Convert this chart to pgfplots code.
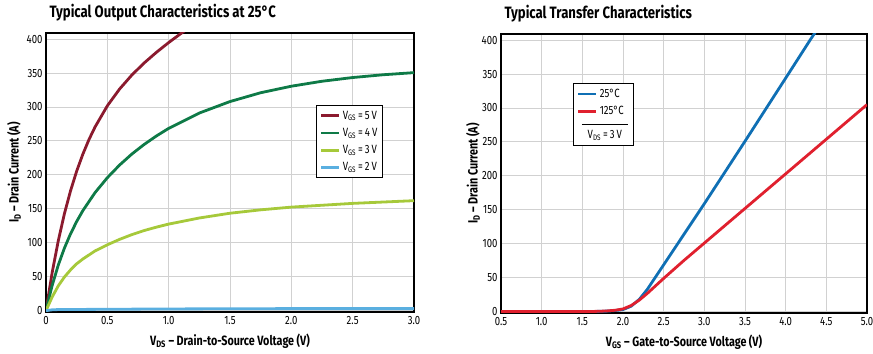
\documentclass[border=0pt]{standalone}
\usepackage{fontspec}
\setmainfont{Fira Sans}[FakeStretch=0.8]
\usepackage{pgfplots}
\pgfplotsset{compat=1.18}
\definecolor{cR5}{HTML}{8B1A2E}
\definecolor{cG4}{HTML}{0E7A47}
\definecolor{cY3}{HTML}{A6C93A}
\definecolor{cB2}{HTML}{5AAFE0}
\definecolor{cBlue}{HTML}{0F6FB4}
\definecolor{cRed}{HTML}{E0202E}
\pgfplotsset{
  myaxis/.style={
    scale only axis,
    anchor=south west,
    axis line style={line width=1.6bp,black},
    grid=major,
    major grid style={line width=0.9bp,color=black!18},
    major tick length=0pt,
    ymin=-2, ymax=409,
    ytick={0,50,...,400},
    tick label style={font=\fontsize{12}{12}\selectfont},
    xticklabel style={yshift=-1bp},
    /pgf/number format/assume math mode=true,
    label style={font=\bfseries\fontsize{13.5}{14}\selectfont},
    title style={at={(axis description cs:0,1)},anchor=base west,yshift=10bp,xshift=0bp,font=\bfseries\fontsize{16.5}{17}\selectfont},
    every axis plot/.append style={line width=2.8bp,no markers,line join=round},
    legend style={draw=black,line width=0.9bp,fill=white,font=\fontsize{12}{13}\selectfont,
      anchor=north west,inner sep=3.5bp,row sep=3.5bp},
    legend cell align=left,
    legend image code/.code={\draw[#1,line width=2.8bp] (0bp,0bp) -- (18bp,0bp);},
    clip=true,
  }
}
\begin{document}
\begin{tikzpicture}
\path[use as bounding box] (0,0) rectangle (873bp,354bp);
% ---------------- Left chart ----------------
\begin{axis}[myaxis,
  at={(46bp,42bp)}, width=368bp, height=279bp,
  xmin=0, xmax=3.0,
  xtick={0,0.5,1.0,1.5,2.0,2.5,3.0},
  xticklabels={0,0.5,1.0,1.5,2.0,2.5,3.0},
  title={Typical Output Characteristics at 25°C},
  xlabel={V\textsubscript{DS} – Drain-to-Source Voltage (V)},
  ylabel={I\textsubscript{D} – Drain Current (A)},
  xlabel style={at={(axis description cs:0.5,-0.104)},anchor=center},
  ylabel style={at={(axis description cs:-0.087,0.5)},anchor=center,rotate=0},
  legend style={at={(axis description cs:0.734,0.742)}},
]
\addplot[cR5] coordinates {(0,0) (0.05,55.8) (0.1,102.8) (0.15,142.7) (0.2,176.5) (0.25,205.5) (0.3,230.3) (0.35,251.9) (0.4,270.6) (0.5,301.7) (0.6,326.5) (0.7,347.1) (0.8,364.8) (0.9,380.5) (1.0,394.9) (1.1,408.3) (1.2,421)};
\addlegendentry{V\textsubscript{GS}\,=\,5\,V}
\addplot[cG4] coordinates {(0,0) (0.05,37) (0.1,67.1) (0.15,92.1) (0.2,113.1) (0.25,131.3) (0.3,147.2) (0.4,173.9) (0.5,195.8) (0.6,214.5) (0.7,230.7) (0.8,244.8) (0.9,257.3) (1.0,268.5) (1.25,291.1) (1.5,308) (1.75,321) (2.0,330.6) (2.25,337.9) (2.5,343.4) (2.75,347.5) (3.0,350.6)};
\addlegendentry{V\textsubscript{GS}\,=\,4\,V}
\addplot[cY3] coordinates {(0,0) (0.05,20) (0.1,36.5) (0.15,49.5) (0.2,60) (0.25,69) (0.3,76) (0.4,88) (0.5,97) (0.6,105) (0.7,112) (0.8,118) (0.9,123) (1.0,127.5) (1.25,136.5) (1.5,143.5) (1.75,148.5) (2.0,152.5) (2.5,158) (3.0,162)};
\addlegendentry{V\textsubscript{GS}\,=\,3\,V}
\addplot[cB2] coordinates {(0,0) (0.05,1.2) (0.1,1.6) (0.5,2) (1.0,2.5) (2.0,3) (3.0,3)};
\addlegendentry{V\textsubscript{GS}\,=\,2\,V}
\end{axis}
% ---------------- Right chart ----------------
\begin{axis}[myaxis,
  at={(501bp,41bp)}, width=366bp, height=279bp,
  xmin=0.5, xmax=5.0,
  xtick={0.5,1.0,1.5,2.0,2.5,3.0,3.5,4.0,4.5,5.0},
  xticklabels={0.5,1.0,1.5,2.0,2.5,3.0,3.5,4.0,4.5,5.0},
  title={Typical Transfer Characteristics},
  xlabel={V\textsubscript{GS} – Gate-to-Source Voltage (V)},
  ylabel={I\textsubscript{D} – Drain Current (A)},
  xlabel style={at={(axis description cs:0.5,-0.104)},anchor=center},
  ylabel style={at={(axis description cs:-0.0765,0.5)},anchor=center,rotate=0},
  legend style={at={(axis description cs:0.197,0.824)}},
]
\addplot[cBlue] coordinates {(0.5,0) (1.0,0) (1.5,0) (1.6,0.2) (1.7,0.4) (1.8,0.8) (1.9,1.6) (2.0,3) (2.1,8) (2.2,18) (2.3,33) (2.4,51) (2.5,69) (2.6,87) (2.7,105) (2.8,123) (2.9,141) (3.0,159) (3.5,251) (4.0,344) (4.3,400) (4.4,418)};
\addlegendentry{25°C}
\addplot[cRed] coordinates {(0.5,0) (1.0,0) (1.5,0) (1.6,0.2) (1.7,0.5) (1.8,1) (1.9,2) (2.0,4) (2.1,9) (2.2,17) (2.3,27) (2.4,38) (2.5,49) (2.75,75.5) (3.0,101) (3.5,152) (4.0,203) (4.5,254) (5.0,305)};
\addlegendentry{125°C}
\addlegendimage{empty legend}
\addlegendentry{\hspace*{-18bp}\shortstack{\rule[3bp]{46bp}{0.8bp}\\V\textsubscript{DS}\,=\,3\,V}}
\end{axis}
\end{tikzpicture}
\end{document}
